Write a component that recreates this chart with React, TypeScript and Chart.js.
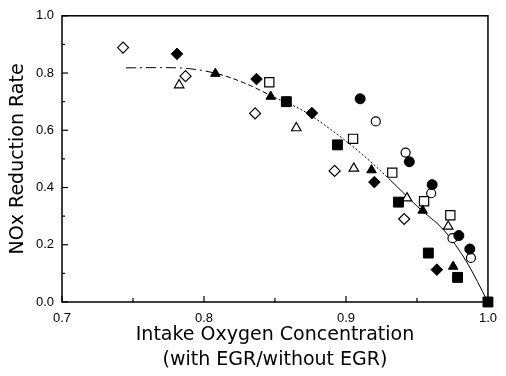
import React, { useEffect, useRef } from "react";
import { Chart, registerables } from "chart.js";

Chart.register(...registerables);

// ---- tick labels ----
const xMajorTicks = [0.7, 0.8, 0.9, 1.0];
const xTickLabels = ["0.7", "0.8", "0.9", "1.0"];
const yMajorTicks = [0.0, 0.2, 0.4, 0.6, 0.8, 1.0];
const yTickLabels = ["0.0", "0.2", "0.4", "0.6", "0.8", "1.0"];

// ---- axis titles ----
const xTitle = ["Intake Oxygen Concentration", "(with EGR/without EGR)"];
const yTitle = "NOx Reduction Rate";

// ---- measured points [x, y] ----
const openDiamond = [[0.743, 0.889], [0.787, 0.789], [0.836, 0.659], [0.892, 0.458], [0.941, 0.29]];
const filledDiamond = [[0.781, 0.867], [0.837, 0.779], [0.876, 0.66], [0.92, 0.419], [0.964, 0.113]];
const openTriangle = [[0.7825, 0.758], [0.865, 0.608], [0.9055, 0.467], [0.943, 0.363], [0.972, 0.264]];
const filledTriangle = [[0.808, 0.798], [0.847, 0.718], [0.918, 0.461], [0.954, 0.32], [0.9755, 0.124]];
const openSquare = [[0.846, 0.768], [0.905, 0.57], [0.9326, 0.452], [0.955, 0.352], [0.9735, 0.303]];
const filledSquare = [[0.858, 0.7], [0.894, 0.549], [0.937, 0.349], [0.958, 0.171], [0.9786, 0.086], [1.0, 0.0]];
const openCircle = [[0.921, 0.631], [0.942, 0.522], [0.96, 0.38], [0.975, 0.223], [0.988, 0.154]];
const filledCircle = [[0.91, 0.71], [0.9446, 0.49], [0.9607, 0.41], [0.9795, 0.232], [0.9872, 0.185]];

// ---- fitted curve ----
const curveX = [0.745, 0.77, 0.79, 0.81, 0.83, 0.85, 0.87, 0.89, 0.91, 0.93, 0.95, 0.97, 0.985, 1.0];
const curveY = [0.818, 0.819, 0.815, 0.797, 0.762, 0.714, 0.668, 0.6, 0.522, 0.432, 0.335, 0.245, 0.14, 0.0];

const toXY = (arr: number[][]) => arr.map(([x, y]) => ({ x, y }));

function labelFor(v: number, majors: number[], labels: string[]) {
  const i = majors.findIndex((m) => Math.abs(m - v) < 1e-6);
  return i >= 0 ? labels[i] : "";
}

const framePlugin = {
  id: "frameTicks",
  beforeDatasetsDraw(chart: any) {
    const { ctx, chartArea, scales } = chart;
    const { left, right, top, bottom } = chartArea;
    ctx.save();
    ctx.strokeStyle = "#000";
    ctx.lineWidth = 1.5;
    ctx.strokeRect(left, top, right - left, bottom - top);
    ctx.lineWidth = 1.2;
    // x ticks (inward)
    scales.x.ticks.forEach((t: any) => {
      const px = scales.x.getPixelForValue(t.value);
      const major = xMajorTicks.some((m) => Math.abs(m - t.value) < 1e-6);
      const len = major ? 6 : 4;
      ctx.beginPath();
      ctx.moveTo(px, bottom);
      ctx.lineTo(px, bottom - len);
      ctx.stroke();
    });
    // y ticks (inward)
    scales.y.ticks.forEach((t: any) => {
      const py = scales.y.getPixelForValue(t.value);
      const major = yMajorTicks.some((m) => Math.abs(m - t.value) < 1e-6);
      const len = major ? 6 : 3;
      ctx.beginPath();
      ctx.moveTo(left, py);
      ctx.lineTo(left + len, py);
      ctx.stroke();
    });
    ctx.restore();
  },
};

export default function App() {
  const ref = useRef<HTMLCanvasElement>(null);

  useEffect(() => {
    const canvas = ref.current;
    if (!canvas) return;
    const openStyle = { backgroundColor: "#fff", borderColor: "#000", pointBorderWidth: 1.2 };
    const filledStyle = { backgroundColor: "#000", borderColor: "#000", pointBorderWidth: 1 };
    const chart = new Chart(canvas, {
      type: "scatter",
      data: {
        datasets: [
          {
            label: "fit",
            data: curveX.map((x, i) => ({ x, y: curveY[i] })),
            showLine: true,
            pointRadius: 0,
            borderColor: "#000",
            borderWidth: 1,
            cubicInterpolationMode: "monotone",
            order: 3,
            segment: {
              borderDash: (c: any) =>
                c.p0.parsed.x < 0.795 ? [10, 4, 2, 4] : c.p0.parsed.x < 0.845 ? [5, 3] : c.p0.parsed.x < 0.92 ? [2, 2] : [],
            },
          } as any,
          { label: "od", data: toXY(openDiamond), pointStyle: "rectRot", pointRadius: 5.5, ...openStyle, order: 2, clip: false },
          { label: "ot", data: toXY(openTriangle), pointStyle: "triangle", pointRadius: 5.5, ...openStyle, order: 2, clip: false },
          { label: "os", data: toXY(openSquare), pointStyle: "rect", pointRadius: 6.5, ...openStyle, order: 2, clip: false },
          { label: "oc", data: toXY(openCircle), pointStyle: "circle", pointRadius: 4.5, ...openStyle, order: 2, clip: false },
          { label: "fd", data: toXY(filledDiamond), pointStyle: "rectRot", pointRadius: 5.8, ...filledStyle, order: 1, clip: false },
          { label: "ft", data: toXY(filledTriangle), pointStyle: "triangle", pointRadius: 5.5, ...filledStyle, order: 1, clip: false },
          { label: "fs", data: toXY(filledSquare), pointStyle: "rect", pointRadius: 7, ...filledStyle, order: 1, clip: false },
          { label: "fc", data: toXY(filledCircle), pointStyle: "circle", pointRadius: 5, ...filledStyle, order: 1, clip: false },
        ] as any,
      },
      options: {
        responsive: false,
        animation: false,
        devicePixelRatio: 1,
        layout: { padding: { top: 12, right: 9, left: 0, bottom: 0 } },
        plugins: { legend: { display: false }, tooltip: { enabled: false } },
        scales: {
          x: {
            type: "linear",
            min: 0.7,
            max: 1.0,
            afterFit: (s: any) => {
              s.height = 74;
            },
            grid: { display: false, drawTicks: false, tickLength: 0 },
            border: { display: false },
            ticks: {
              stepSize: 0.05,
              autoSkip: false,
              maxRotation: 0,
              padding: 9,
              color: "#000",
              font: { family: "'Liberation Sans', Arial, sans-serif", size: 13 },
              callback: (v: any) => labelFor(Number(v), xMajorTicks, xTickLabels),
            },
            title: {
              display: true,
              text: xTitle,
              color: "#000",
              font: { family: "'DejaVu Sans', sans-serif", size: 19, lineHeight: 1.316 },
              padding: { top: 0, bottom: 3.5 },
            },
          },
          y: {
            type: "linear",
            min: 0,
            max: 1.0,
            afterFit: (s: any) => {
              s.width = 62;
            },
            grid: { display: false, drawTicks: false, tickLength: 0 },
            border: { display: false },
            ticks: {
              stepSize: 0.1,
              autoSkip: false,
              padding: 8,
              color: "#000",
              font: { family: "'Liberation Sans', Arial, sans-serif", size: 13 },
              callback: (v: any) => labelFor(Number(v), yMajorTicks, yTickLabels),
            },
            title: {
              display: true,
              text: yTitle,
              color: "#000",
              font: { family: "'DejaVu Sans', sans-serif", size: 19 },
              padding: { top: 7, bottom: 0 },
            },
          },
        },
      } as any,
      plugins: [framePlugin],
    });
    return () => chart.destroy();
  }, []);

  return (
    <div style={{ position: "fixed", left: 0, top: 0, width: 506, height: 376, background: "#fff" }}>
      <canvas ref={ref} width={506} height={376} style={{ display: "block", width: 506, height: 376 }} />
    </div>
  );
}
